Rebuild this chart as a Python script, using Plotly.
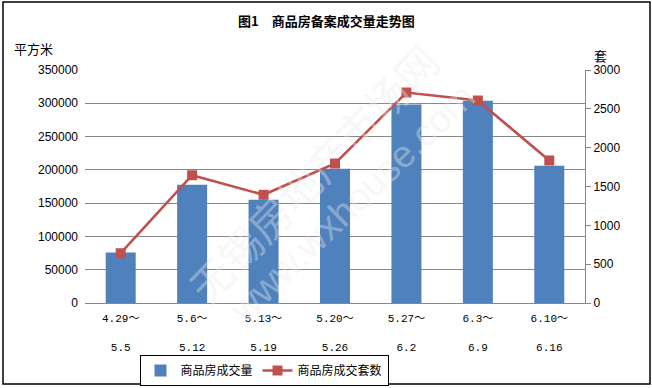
import plotly.graph_objects as go

categories = ["4.29～<br><br>5.5", "5.6～<br><br>5.12", "5.13～<br><br>5.19", "5.20～<br><br>5.26",
              "5.27～<br><br>6.2", "6.3～<br><br>6.9", "6.10～<br><br>6.16"]
area_values = [75700, 177700, 155200, 201700, 298100, 303700, 206200]
unit_values = [641, 1645, 1393, 1796, 2710, 2607, 1835]
left_ticks = [0, 50000, 100000, 150000, 200000, 250000, 300000, 350000]
right_ticks = [0, 500, 1000, 1500, 2000, 2500, 3000]

W, H = 652, 388
L, R, T, B = 85, 585, 70, 303
pw, ph = R - L, B - T

def px(x):
    return (x - L) / pw

def py(y):
    return (B - y) / ph

cjk = "Noto Sans CJK SC, Noto Sans CJK JP, sans-serif"
num = "Liberation Sans, Arial, sans-serif"

fig = go.Figure()
fig.add_trace(go.Bar(
    x=categories, y=area_values, name="商品房成交量",
    marker=dict(color="#4F81BD", line=dict(width=0)), yaxis="y",
))
fig.add_trace(go.Scatter(
    x=categories, y=unit_values, name="商品房成交套数", mode="lines+markers",
    line=dict(color="#C0504D", width=2.6),
    marker=dict(symbol="square", size=10, color="#C0504D"),
    yaxis="y2",
))

fig.update_layout(
    width=W, height=H,
    margin=dict(l=L, r=W - R, t=T, b=H - B, pad=0, autoexpand=False),
    paper_bgcolor="white", plot_bgcolor="white",
    bargap=0.58,
    showlegend=True,
    legend=dict(
        orientation="h", x=px(264), y=py(355), xanchor="center", yanchor="top",
        bordercolor="black", borderwidth=1, bgcolor="white",
        font=dict(family=cjk, size=12, color="black"),
        itemwidth=30, tracegroupgap=0,
    ),
    xaxis=dict(
        showgrid=False, showline=True, linecolor="#888888", linewidth=1,
        ticks="", automargin=False, ticklabelstandoff=5,
        tickfont=dict(family="Liberation Mono, Noto Sans CJK SC, monospace", size=11, color="black"),
        range=[-0.5, 6.5],
    ),
    yaxis=dict(
        range=[0, 350000], tickvals=left_ticks, ticktext=[str(v) for v in left_ticks],
        showgrid=True, gridcolor="#888888", gridwidth=1, automargin=False,
        showline=False, ticks="", zeroline=False,
        tickfont=dict(family=num, size=12, color="black"), ticklabelstandoff=6,
    ),
    yaxis2=dict(
        range=[0, 3000], tickvals=right_ticks, ticktext=[str(v) for v in right_ticks],
        overlaying="y", side="right", showgrid=False, zeroline=False, automargin=False,
        showline=True, linecolor="#888888", linewidth=1,
        ticks="outside", ticklen=5, tickcolor="#888888",
        tickfont=dict(family=num, size=12, color="black"),
    ),
    annotations=[
        dict(text="<b>图1　商品房备案成交量走势图</b>", xref="paper", yref="paper",
             x=px(326), y=py(21), showarrow=False, xanchor="center", yanchor="middle",
             font=dict(family=cjk, size=13, color="black")),
        dict(text="平方米", xref="paper", yref="paper",
             x=px(12), y=py(48), showarrow=False, xanchor="left", yanchor="middle",
             font=dict(family=cjk, size=13, color="black")),
        dict(text="套", xref="paper", yref="paper",
             x=px(600), y=py(55), showarrow=False, xanchor="center", yanchor="middle",
             font=dict(family=cjk, size=13, color="black")),
        # faint watermark
        dict(text="无锡房地产市场网", xref="paper", yref="paper",
             x=px(312), y=py(172), showarrow=False, xanchor="center", yanchor="middle",
             textangle=-46, font=dict(family=cjk, size=42, color="rgba(235,235,235,0.40)")),
        dict(text="www.wxhouse.com", xref="paper", yref="paper",
             x=px(352), y=py(203), showarrow=False, xanchor="center", yanchor="middle",
             textangle=-44, font=dict(family=num, size=38, color="rgba(235,235,235,0.40)")),
    ],
    shapes=[
        dict(type="rect", xref="paper", yref="paper",
             x0=px(3), x1=px(650), y0=py(2), y1=py(384),
             line=dict(color="black", width=1.5), fillcolor="rgba(0,0,0,0)", layer="below"),
    ],
)

fig.write_html(
    "out.html",
    config={"displayModeBar": False},
    post_script="document.body.style.margin='0px';document.body.style.padding='0px';",
)
